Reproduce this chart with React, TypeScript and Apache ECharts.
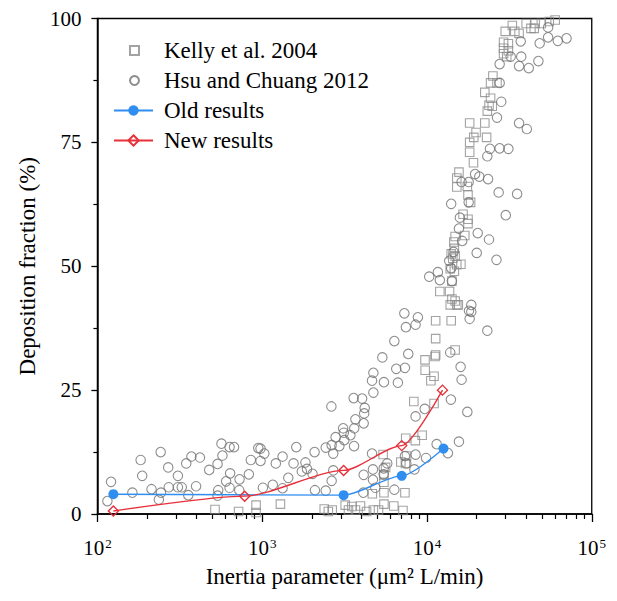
import React, { useEffect, useRef } from "react";
import * as echarts from "echarts";

const FONT = "'Liberation Serif', 'Times New Roman', serif";

const kellyPoints: [number, number][] = [
  [517, 0.9], [719, 0.5], [918, 1.8], [918, 0.3], [1290, 2.0], [2380, 1.0], [2520, 0.5], [2660, 0.8],
  [3190, 1.8], [3340, 0.8], [3500, 1.5], [3680, 0.8], [3950, 1.6], [4300, 0.5], [4730, 0.8], [5080, 0.8],
  [5480, 2.0], [5480, 4.3], [4660, 4.1], [5480, 6.4], [5480, 7.9], [5610, 9.4], [5420, 12.0], [6940, 10.5],
  [7430, 15.3], [8320, 22.7], [7350, 4.3], [6290, 1.6], [7150, 0.7],
  [13840, 42.2], [15170, 42.2], [11290, 39.0], [14030, 39.0], [11290, 35.4], [14820, 33.1], [9730, 31.1],
  [11190, 31.8], [9750, 29.0], [11040, 27.8], [11040, 22.3], [9350, 15.9], [8500, 14.8], [7520, 11.7], [7400, 10.2],
  [14350, 51.6], [15170, 50.3], [14170, 47.0], [11970, 44.9], [13710, 44.9], [14170, 43.4], [11290, 32.1], [10560, 26.9],
  [15170, 66.0], [17740, 64.4], [18400, 62.9], [16560, 60.5], [17740, 59.5], [17740, 58.6], [16960, 56.2],
  [14820, 56.0], [14560, 54.9], [14030, 52.5], [13840, 49.5], [15490, 42.2], [14820, 43.0],
  [18160, 78.9], [22440, 78.9], [19860, 77.0], [19230, 76.0], [23010, 76.0], [18160, 75.0], [18160, 73.0],
  [19150, 70.9], [15630, 69.0], [15170, 67.8], [17580, 66.1], [14660, 53.6], [14820, 52.1], [16070, 50.4], [14660, 49.0],
  [32960, 98.6], [29850, 97.4], [34120, 97.4], [36220, 97.0], [39990, 99.0], [42760, 98.0], [45390, 99.0],
  [49430, 99.0], [44770, 98.0], [55210, 99.4], [59980, 99.7], [29170, 95.2], [31190, 94.9], [29170, 94.0],
  [31190, 93.5], [29170, 92.9], [30480, 92.3], [25120, 88.4], [24320, 87.0], [26610, 87.0], [22440, 85.1],
  [24320, 83.9], [23790, 82.5], [24890, 82.3], [23240, 81.3],
];

const hsuPoints: [number, number][] = [
  [121, 6.5], [115, 2.6], [163, 4.3], [183, 10.9], [187, 7.7], [242, 12.5], [213, 5.0], [243, 4.3], [236, 2.9],
  [269, 9.4], [271, 5.4], [308, 7.7], [308, 5.4], [325, 5.4], [346, 10.2], [372, 11.6], [419, 11.4], [356, 3.8],
  [397, 5.6], [477, 8.9], [536, 10.1], [566, 14.2], [574, 11.8], [634, 13.5], [675, 13.5], [639, 8.2], [604, 6.6],
  [634, 5.3], [729, 7.0], [830, 8.0], [853, 10.9], [541, 4.8], [536, 3.7], [726, 4.8], [947, 13.3],
  [4640, 26.9], [5480, 26.6], [6660, 26.5], [3590, 23.4], [4040, 23.3], [4730, 24.5], [2630, 21.7], [4190, 21.4],
  [4160, 20.3], [3680, 19.1], [4130, 18.3], [3100, 17.3], [3620, 17.3], [2790, 15.5], [3130, 16.4], [3430, 15.9],
  [3150, 14.9], [2640, 13.9], [2430, 13.4], [2940, 13.7], [3610, 13.7], [2700, 12.2], [2080, 12.5], [1610, 13.5],
  [977, 13.2], [1030, 12.2], [977, 10.7], [1330, 11.6], [1210, 10.2], [1550, 10.2], [1830, 10.4], [1870, 9.1],
  [1740, 8.6], [2020, 8.1], [1440, 7.3], [1160, 5.9], [1010, 5.3], [1330, 5.2], [2090, 4.8], [2430, 4.7],
  [2640, 6.7], [2700, 8.8], [4640, 12.2], [4130, 7.9], [4700, 6.9], [4700, 9.0], [5460, 9.2], [5460, 8.0],
  [4860, 5.3], [4110, 4.3], [6340, 4.9], [5740, 10.2], [7350, 11.7], [7490, 10.2],
  [7290, 40.5], [8810, 39.7], [7450, 37.7], [8530, 38.2], [6340, 34.9], [7700, 32.3], [5360, 31.6], [6510, 29.3],
  [7350, 29.5], [4730, 28.5], [8530, 19.7], [9690, 21.2], [13970, 23.1], [17580, 20.6], [15630, 14.6],
  [13840, 32.6], [16000, 29.7], [16220, 27.1], [18580, 40.8], [18160, 39.4], [10320, 47.9], [11650, 48.8],
  [11970, 47.2], [14490, 52.9], [13650, 51.1], [14030, 49.6],
  [27230, 64.9], [35240, 64.6], [14030, 62.6], [17910, 62.9], [30080, 60.3], [15850, 59.8], [15630, 57.6],
  [20320, 56.7], [23790, 55.4], [16360, 55.1], [20040, 52.7], [26420, 51.3], [14170, 47.0], [18580, 42.2],
  [17990, 41.0], [23240, 37.0],
  [26610, 80.0], [36220, 78.9], [40360, 77.7], [24110, 73.7], [27610, 73.8], [31190, 73.7], [23240, 72.2],
  [19590, 68.6], [20780, 68.1], [23480, 67.6], [16220, 67.0], [17910, 67.0],
  [37070, 95.4], [48310, 95.0], [54330, 98.2], [54330, 96.2], [62230, 95.5], [70310, 96.0], [32210, 92.3],
  [37330, 92.3], [36220, 90.4], [41480, 90.0], [47460, 91.4], [27610, 90.8], [27610, 87.0], [28250, 83.2],
  [8530, 12.0], [13400, 12.3], [11450, 14.1], [9870, 11.3], [8390, 9.0],
];

const oldX = [125, 3120, 7030, 12600];
const oldY = [4.0, 3.8, 7.7, 13.2];
const newX = [125, 783, 3120, 7030, 12420];
const newY = [0.6, 3.6, 8.8, 13.8, 25.0];

const xMinorTicks = [
  200, 300, 400, 500, 600, 700, 800, 900,
  2000, 3000, 4000, 5000, 6000, 7000, 8000, 9000,
  20000, 30000, 40000, 50000, 60000, 70000, 80000, 90000,
];
const yTicks = [0, 25, 50, 75, 100];

const GREY_SQ = "#8c8c8c";
const GREY_CI = "#707070";
const BLUE = "#2f8ef0";
const RED = "#e8303a";

const legendText = { fontSize: 23, lineHeight: 23, fontFamily: FONT, color: "#000" };

export default function App() {
  const ref = useRef<HTMLDivElement>(null);
  useEffect(() => {
    if (!ref.current) return;
    const chart = echarts.init(ref.current, null, { renderer: "svg" });
    chart.setOption({
      animation: false,
      backgroundColor: "#fff",
      textStyle: { fontFamily: FONT },
      grid: {
        left: 83, right: 8, top: 4, bottom: 72,
        show: true, borderColor: "#000", borderWidth: 1.3, backgroundColor: "transparent",
      },
      legend: [
        {
          orient: "vertical", left: 116, top: 26, itemWidth: 9, itemHeight: 9, itemGap: 7,
          textStyle: { ...legendText, padding: [0, 0, 0, 20] },
          data: [
            { name: "Kelly et al. 2004", icon: "path://M0 0H10V10H0Z" },
            { name: "Hsu and Chuang 2012", icon: "circle" },
          ],
        },
        {
          orient: "vertical", left: 100, top: 86, itemWidth: 39, itemHeight: 13, itemGap: 7,
          textStyle: { ...legendText, padding: [0, 0, 0, 6] },
          data: ["Old results", "New results"],
        },
      ],
      xAxis: [
        {
          type: "log", logBase: 10, min: 100, max: 100000, interval: 1,
          name: "Inertia parameter (μm² L/min)", nameLocation: "middle", nameGap: 51,
          nameTextStyle: { fontSize: 23, fontFamily: FONT, color: "#000" },
          axisLine: { lineStyle: { color: "#000", width: 1.5 } },
          axisTick: { show: true, length: 8, lineStyle: { color: "#000", width: 1.3 } },
          splitLine: { show: false },
          axisLabel: {
            margin: 23,
            formatter: (v: number) => `{b|10}{s|${Math.round(Math.log10(v))}}`,
            rich: {
              b: { fontSize: 21, fontFamily: FONT, color: "#000" },
              s: { fontSize: 13, fontFamily: FONT, color: "#000", verticalAlign: "top", padding: [0, 0, 9, 1] },
            },
          },
        },
        {
          type: "log", logBase: 10, min: 100, max: 100000, gridIndex: 0, position: "bottom",
          axisLine: { show: false },
          axisLabel: { show: false },
          splitLine: { show: false },
          axisTick: { show: true, length: 5, customValues: xMinorTicks, lineStyle: { color: "#000", width: 1.2 } },
        },
      ],
      yAxis: {
        type: "value", min: 0, max: 100, interval: 25,
        name: "Deposition fraction (%)", nameLocation: "middle", nameGap: 55,
        nameTextStyle: { fontSize: 23, fontFamily: FONT, color: "#000" },
        axisLine: { show: true, lineStyle: { color: "#000", width: 1.5 } },
        axisTick: { show: true, length: 6, lineStyle: { color: "#000", width: 1.3 } },
        minorTick: { show: true, splitNumber: 2, length: 4, lineStyle: { color: "#000", width: 1.2 } },
        splitLine: { show: false },
        axisLabel: {
          fontSize: 21, fontFamily: FONT, color: "#000", margin: 16,
          customValues: yTicks,
        },
      },
      series: [
        {
          name: "Kelly et al. 2004", type: "scatter", symbol: "rect", symbolSize: 8.5, clip: false,
          itemStyle: { color: "rgba(255,255,255,0)", borderColor: GREY_SQ, borderWidth: 1.1 },
          data: kellyPoints,
        },
        {
          name: "Hsu and Chuang 2012", type: "scatter", symbol: "circle", symbolSize: 9.5, clip: false,
          itemStyle: { color: "rgba(255,255,255,0)", borderColor: GREY_CI, borderWidth: 1.1 },
          data: hsuPoints,
        },
        {
          name: "Old results", type: "line", smooth: 0.25, smoothMonotone: "x",
          symbol: "circle", symbolSize: 10, showSymbol: true,
          lineStyle: { color: BLUE, width: 1.4 },
          itemStyle: { color: BLUE },
          data: oldX.map((x, i) => [x, oldY[i]]),
        },
        {
          name: "New results", type: "line", smooth: 0.25, smoothMonotone: "x",
          symbol: "diamond", symbolSize: 10, showSymbol: true,
          lineStyle: { color: RED, width: 1.4 },
          itemStyle: { color: "rgba(255,255,255,0)", borderColor: RED, borderWidth: 1.4 },
          data: newX.map((x, i) => [x, newY[i]]),
        },
      ],
    });
    return () => chart.dispose();
  }, []);
  return <div ref={ref} style={{ width: 601, height: 585 }} />;
}
